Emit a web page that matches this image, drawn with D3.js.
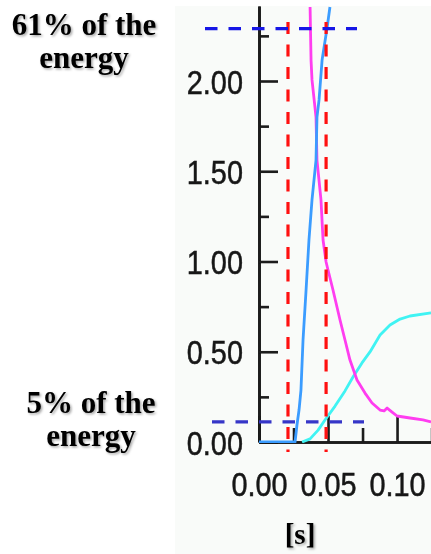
<!DOCTYPE html>
<html>
<head>
<meta charset="utf-8">
<script src="https://cdn.jsdelivr.net/npm/d3@7"></script>
<style>
html, body { margin: 0; padding: 0; background: #fff; }
svg { display: block; }
.tick text { font-family: "Liberation Sans", Arial, sans-serif; font-size: 34px; fill: #151515; stroke: #151515; stroke-width: 0.5; }
.note { font-family: "Liberation Serif", "Times New Roman", serif; font-weight: bold; font-size: 31px; fill: #000; }
</style>
</head>
<body>
<svg class="chart" width="431" height="554"></svg>
<script>
// blue curve (fast rise)
var blueT = [0, 0.0261, 0.0275, 0.0290, 0.0304, 0.0319, 0.0341, 0.0362, 0.0384, 0.0413, 0.0420, 0.0435, 0.0457, 0.0493, 0.0514];
var blueV = [0, 0, 0.094, 0.177, 0.288, 0.565, 0.842, 1.119, 1.341, 1.562, 1.80, 1.895, 2.116, 2.294, 2.41];
// magenta curve (decay)
var magT = [0.0370, 0.0377, 0.0384, 0.0413, 0.0420, 0.0449, 0.0464, 0.0486, 0.0500, 0.0536, 0.0587, 0.0623, 0.0659, 0.0710, 0.0768, 0.0819, 0.0877, 0.0906, 0.0928, 0.0964, 0.1000, 0.1094, 0.1188, 0.1246];
var magV = [2.41, 2.116, 2.006, 1.80, 1.562, 1.341, 1.119, 0.997, 0.953, 0.842, 0.676, 0.565, 0.454, 0.343, 0.271, 0.216, 0.177, 0.172, 0.188, 0.166, 0.144, 0.133, 0.122, 0.111];
// cyan curve (slow rise)
var cyanT = [0.0312, 0.0370, 0.0428, 0.0478, 0.0551, 0.0623, 0.0681, 0.0746, 0.0804, 0.0877, 0.0949, 0.1022, 0.1094, 0.1246];
var cyanV = [0, 0.017, 0.066, 0.122, 0.199, 0.283, 0.36, 0.438, 0.499, 0.593, 0.648, 0.681, 0.698, 0.715];

var yMajor = [0, 0.5, 1.0, 1.5, 2.0];
var yMinor = [0.25, 0.75, 1.25, 1.75, 2.25];
var xMajor = [0, 0.05, 0.10];
var xMinor = [0.025, 0.075, 0.125];
var energyLevels = [2.29, 0.111];
var markTimes = [0.021, 0.0486];
var notes = [["61% of the", "energy"], ["5% of the", "energy"]];

var svg = d3.select("svg.chart");

var x = d3.scaleLinear().domain([0, 0.1246]).range([259, 431]);
var y = d3.scaleLinear().domain([0, 2.4155]).range([442, 6]);

svg.append("rect")
    .attr("x", 175).attr("y", 6)
    .attr("width", 256).attr("height", 548)
    .attr("fill", "#f9fbf9");

var defs = svg.append("defs");
defs.append("filter").attr("id", "soft")
    .append("feGaussianBlur").attr("stdDeviation", 0.55);

defs.append("filter").attr("id", "shadow")
    .attr("x", "-10%").attr("y", "-10%").attr("width", "130%").attr("height", "140%")
    .append("feDropShadow")
    .attr("dx", 1.5).attr("dy", 1.5).attr("stdDeviation", 0.8)
    .attr("flood-color", "#000").attr("flood-opacity", 0.35);

defs.append("clipPath").attr("id", "plot")
    .append("rect").attr("x", 259).attr("y", 6).attr("width", 172).attr("height", 437);

var chart = svg.append("g").attr("filter", "url(#soft)");

// y axis, ticks pointing into the plot
chart.append("g")
    .attr("transform", "translate(259,0)")
    .call(d3.axisLeft(y).tickValues(yMinor).tickSize(-10).tickSizeOuter(0).tickFormat(""));
var yAxis = chart.append("g")
    .attr("transform", "translate(259,0)")
    .call(d3.axisLeft(y).tickValues(yMajor).tickSize(-19).tickSizeOuter(0).tickPadding(16).tickFormat(d3.format(".2f")));
// squeeze the labels like the narrow original font
yAxis.selectAll(".tick text")
    .attr("x", 0)
    .attr("dy", "0.36em")
    .attr("transform", "translate(-16,0) scale(0.85,1)");

// x axis, ticks pointing up
chart.append("g")
    .attr("transform", "translate(0,442)")
    .call(d3.axisBottom(x).tickValues(xMinor).tickSize(-14).tickSizeOuter(0).tickFormat(""));
var xAxis = chart.append("g")
    .attr("transform", "translate(0,442)")
    .call(d3.axisBottom(x).tickValues(xMajor).tickSize(-26).tickSizeOuter(0).tickPadding(30).tickFormat(d3.format(".2f")));
xAxis.selectAll(".tick text")
    .attr("transform", "scale(0.85,1)");

chart.selectAll(".domain, .tick line")
    .attr("stroke", "#1a1a1a")
    .attr("stroke-width", 2.6);

function series(ts, vs) {
    return ts.map(function(t, i) { return [t, vs[i]]; });
}
var line = d3.line()
    .x(function(d) { return x(d[0]); })
    .y(function(d) { return y(d[1]); });

var curves = chart.append("g").attr("clip-path", "url(#plot)");
curves.selectAll("path")
    .data([
        {pts: series(cyanT, cyanV), color: "#3ff3f3"},
        {pts: series(magT, magV), color: "#ff3cf0"},
        {pts: series(blueT, blueV), color: "#3a9cff"}
    ])
    .enter().append("path")
    .attr("d", function(d) { return line(d.pts); })
    .attr("fill", "none")
    .attr("stroke", function(d) { return d.color; })
    .attr("stroke-width", 2.8)
    .attr("stroke-linejoin", "round");

// dashed markers
svg.append("g").selectAll("line")
    .data(markTimes)
    .enter().append("line")
    .attr("x1", function(d) { return x(d); })
    .attr("x2", function(d) { return x(d); })
    .attr("y1", 22).attr("y2", 452)
    .attr("stroke", "#ff1010")
    .attr("stroke-width", 3.2)
    .attr("stroke-dasharray", "12 10.5");

svg.append("g").selectAll("line")
    .data(energyLevels)
    .enter().append("line")
    .attr("x1", function(d, i) { return i == 0 ? 205 : 212; })
    .attr("x2", function(d, i) { return i == 0 ? 357 : 364; })
    .attr("y1", function(d) { return y(d); })
    .attr("y2", function(d) { return y(d); })
    .attr("stroke", function(d, i) { return i == 0 ? "#1616e6" : "#3636c8"; })
    .attr("stroke-width", 3.2)
    .attr("stroke-dasharray", "12.5 11");

// side notes
var noteX = [84, 91], noteY = [35, 413];
notes.forEach(function(lines, k) {
    var t = svg.append("text")
        .attr("class", "note")
        .attr("text-anchor", "middle")
        .attr("filter", "url(#shadow)");
    lines.forEach(function(s, j) {
        t.append("tspan")
            .attr("x", noteX[k])
            .attr("y", noteY[k] + j * 33)
            .text(s);
    });
});

svg.append("text")
    .attr("class", "note")
    .attr("text-anchor", "middle")
    .attr("x", 300).attr("y", 544)
    .style("font-size", "29px")
    .attr("filter", "url(#shadow)")
    .text("[s]");
</script>
</body>
</html>
